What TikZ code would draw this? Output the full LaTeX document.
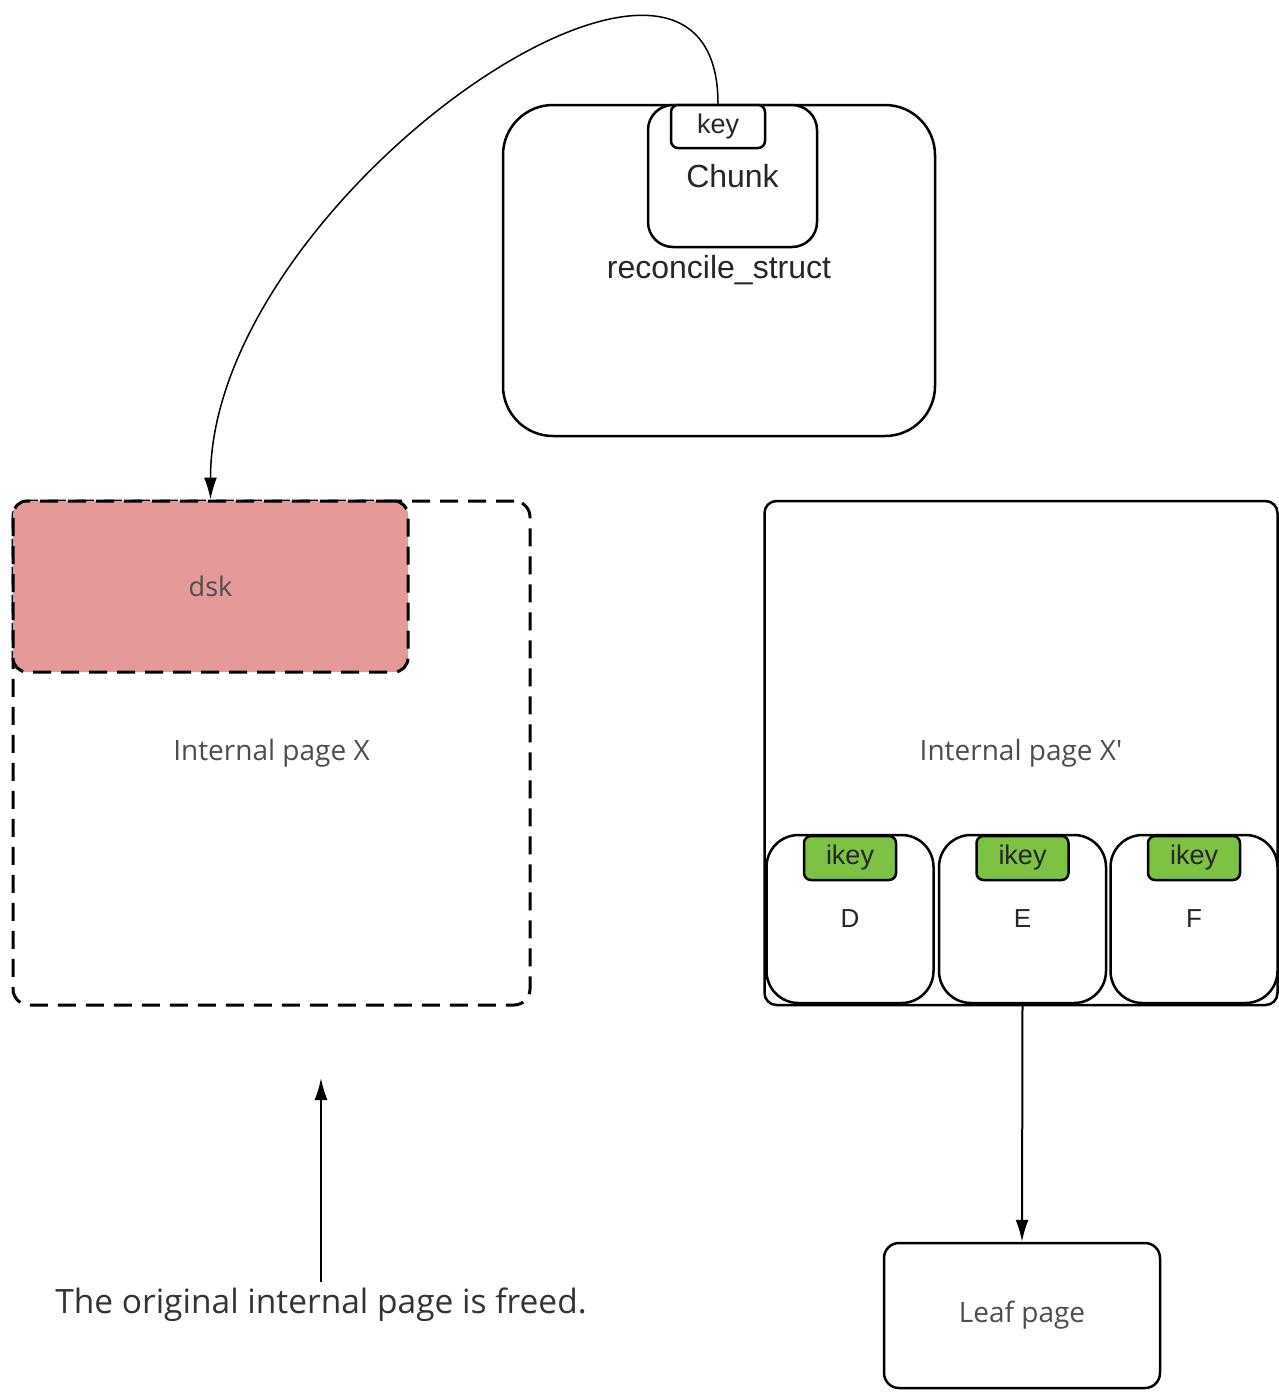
\documentclass[tikz,border=0pt]{standalone}
\usepackage{fontspec}
\setmainfont{Liberation Sans}
\newfontfamily\osans{Open Sans}
\usetikzlibrary{arrows.meta}
\definecolor{dskpink}{RGB}{229,153,153}
\definecolor{ikeygreen}{RGB}{125,194,66}
\definecolor{txtgray}{RGB}{77,77,77}
\tikzset{
  sbox/.style={draw, line width=2.5pt, inner sep=0pt, align=center},
  dbox/.style={draw, line width=3pt, dash pattern=on 18pt off 10pt, inner sep=0pt},
  ariallbl/.style={font=\fontsize{#1}{#1}\selectfont, text=black!85},
  oslbl/.style={font=\osans\fontsize{#1}{#1}\selectfont, text=txtgray},
  conn/.style={line width=2pt, -{Latex[length=22pt,width=13pt]}},
}
\begin{document}
\begin{tikzpicture}[x=1pt,y=-1pt]
\useasboundingbox (0,0) rectangle (1279,1392);
% reconcile_struct
\node[sbox, rounded corners=50pt, minimum width=432pt, minimum height=331pt, ariallbl=32] (rec) at (719,270.5) {reconcile\_struct};
\node[sbox, rounded corners=25pt, minimum width=169pt, minimum height=142pt, fill=white, ariallbl=32] (chunk) at (732.5,176) {Chunk};
\node[sbox, rounded corners=7pt, minimum width=94pt, minimum height=43pt, fill=white, ariallbl=27] (key) at (718,126.5) {key};
% internal page X (freed)
\node[dbox, rounded corners=16pt, minimum width=517pt, minimum height=504pt, oslbl=28] (px) at (271.5,753) {Internal page X};
\node[dbox, rounded corners=14pt, fill=dskpink, minimum width=395pt, minimum height=171pt, oslbl=27] (dsk) at (210.5,586.5) {dsk};
% internal page X'
\node[sbox, rounded corners=12pt, minimum width=513pt, minimum height=504pt, oslbl=28] (pxp) at (1021,753) {Internal page X'};
\foreach \n/\cx/\t in {d/850/D, e/1022.5/E, f/1194/F}{
  \node[sbox, rounded corners=32pt, fill=white, minimum width=167pt, minimum height=168pt, ariallbl=26] (\n) at (\cx,919) {\t};
  \node[sbox, rounded corners=7pt, fill=ikeygreen, minimum width=92pt, minimum height=44pt, ariallbl=27] (ik\n) at (\cx,858) {ikey};
}
% leaf page
\node[sbox, rounded corners=15pt, minimum width=276pt, minimum height=145pt, oslbl=28] (leaf) at (1022,1315.5) {Leaf page};
% caption
\node[oslbl=33.5, text=black!80, inner sep=6pt] (freed) at (321,1305) {The original internal page is freed.};
\coordinate (up) at (321,1078);
% connectors
\draw[line width=1.5pt, -{Latex[length=22pt,width=13pt]}] (key.north) .. controls +(0,-255) and +(0,-301) .. (dsk.north);
\draw[conn] (e.south) -- (leaf.north);
\draw[conn] (freed.north) -- (up);
\end{tikzpicture}
\end{document}
